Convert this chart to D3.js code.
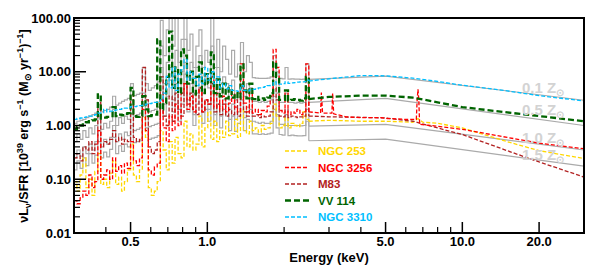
<!DOCTYPE html>
<html>
<head>
<meta charset="utf-8"/>
<script src="https://cdn.jsdelivr.net/npm/d3@7"></script>
<style>
  body { margin: 0; background: #fff; }
  text { font-family: "Liberation Sans", Arial, Helvetica, sans-serif; font-weight: bold; }
</style>
</head>
<body>
<svg id="chart" width="598" height="276"></svg>
<script>
// energy grid (keV) for the line-rich soft band
var energyLow = [
  0.300, 0.308, 0.317, 0.325, 0.334, 0.343, 0.353, 0.362, 0.372, 0.382,
  0.392, 0.403, 0.414, 0.425, 0.437, 0.449, 0.461, 0.473, 0.486, 0.500,
  0.513, 0.527, 0.542, 0.556, 0.572, 0.587, 0.603, 0.620, 0.636, 0.654,
  0.671, 0.690, 0.708, 0.728, 0.747, 0.768, 0.789, 0.810, 0.832, 0.855,
  0.878, 0.902, 0.927, 0.952, 0.978, 1.004, 1.032, 1.060, 1.089, 1.118,
  1.148, 1.180, 1.212, 1.245, 1.279, 1.313, 1.349, 1.386, 1.424, 1.462,
  1.501, 1.542, 1.584, 1.628, 1.672, 1.717, 1.764, 1.812, 1.861, 1.912,
  1.964, 2.017, 2.072, 2.129, 2.187, 2.246, 2.307, 2.370, 2.434, 2.500
];

// model curves (grey), soft band
var z01Low = [
  1.1, 1.2, 1.25, 1.3, 1.4, 1.5, 1.6, 1.7, 2.5, 1.8,
  1.9, 2.0, 2.2, 3.5, 2.4, 2.6, 2.8, 3.0, 3.2, 6.0,
  3.6, 3.8, 4.0, 12, 6.0, 4.5, 5.0, 5.5, 6.5, 90,
  20, 60, 100, 30, 100, 15, 40, 100, 25, 50,
  12, 30, 60, 12, 25, 15, 100, 12, 40, 10,
  30, 17, 9.0, 25, 8.0, 14, 35, 10, 20, 15,
  7.8, 7.6, 7.5, 7.5, 7.5, 7.6, 8.0, 20, 10, 7.5,
  7.4, 12, 7.3, 7.4, 7.3, 7.3, 7.2, 7.3, 14, 7.2
];
var z05Low = [
  0.5, 0.7, 0.55, 0.8, 0.6, 0.9, 0.7, 1.0, 1.5, 0.85,
  1.1, 0.9, 1.2, 2.0, 1.0, 1.4, 1.1, 1.5, 1.3, 3.0,
  1.5, 1.6, 1.7, 8.0, 3.0, 1.8, 1.9, 2.0, 2.2, 30,
  6.0, 15, 30, 8.0, 25, 5.0, 10, 40, 8.0, 15,
  4.0, 12, 20, 4.0, 8.0, 5.0, 30, 4.0, 12, 3.5,
  8.0, 6.0, 3.0, 7.0, 3.0, 4.0, 12, 3.5, 6.0, 5.0,
  2.8, 2.8, 2.7, 2.8, 2.7, 2.8, 3.0, 8.0, 4.0, 2.7,
  2.7, 4.0, 2.7, 2.7, 2.6, 2.7, 2.6, 2.7, 5.0, 2.7
];
var z10Low = [
  0.25, 0.35, 0.27, 0.4, 0.3, 0.45, 0.35, 0.5, 0.8, 0.4,
  0.55, 0.45, 0.6, 1.0, 0.5, 0.7, 0.55, 0.75, 0.65, 1.6,
  0.8, 0.85, 0.9, 4.0, 1.5, 0.95, 1.0, 1.05, 1.1, 12,
  2.5, 6.0, 12, 3.0, 10, 2.0, 4.0, 15, 3.0, 6.0,
  1.6, 4.0, 8.0, 1.8, 3.0, 2.0, 10, 1.6, 4.0, 1.5,
  3.0, 2.5, 1.3, 2.5, 1.3, 1.8, 5.0, 1.4, 2.2, 2.0,
  1.2, 1.15, 1.1, 1.15, 1.1, 1.1, 1.2, 3.5, 1.6, 1.05,
  1.05, 1.6, 1.0, 1.0, 1.0, 1.0, 0.98, 1.0, 2.0, 0.97
];
var z15Low = [
  0.15, 0.22, 0.16, 0.25, 0.18, 0.3, 0.2, 0.28, 0.5, 0.25,
  0.32, 0.26, 0.36, 0.6, 0.3, 0.42, 0.33, 0.45, 0.4, 1.0,
  0.48, 0.5, 0.52, 2.5, 0.9, 0.55, 0.58, 0.6, 0.65, 7.0,
  1.5, 3.5, 7.0, 1.8, 6.0, 1.2, 2.5, 9.0, 1.8, 3.5,
  1.0, 2.5, 5.0, 1.1, 2.0, 1.2, 6.0, 1.0, 2.5, 0.9,
  2.0, 1.5, 0.8, 1.5, 0.78, 1.1, 3.0, 0.8, 1.3, 1.2,
  0.7, 0.7, 0.68, 0.7, 0.68, 0.7, 0.72, 2.0, 0.9, 0.68,
  0.66, 1.0, 0.65, 0.66, 0.65, 0.64, 0.64, 0.65, 1.2, 0.52
];
// model curves, hard band
var modelHiE = [2.5, 5.0, 30];
var z01Hi = [7.2, 8.3, 2.95];
var z05Hi = [2.7, 3.2, 1.0];
var z10Hi = [0.97, 1.05, 0.35];
var z15Hi = [0.52, 0.56, 0.175];

// galaxies, soft band
var ngc253Low = [
  0.09, 0.06, 0.12, 0.25, 0.07, 0.1, 0.05, 0.14, 0.3, 0.08,
  0.1, 0.07, 0.13, 0.22, 0.08, 0.11, 0.06, 0.09, 0.15, 0.45,
  0.12, 0.09, 0.15, 1.4, 0.6, 0.07, 0.05, 0.06, 0.09, 0.8,
  0.35, 0.15, 0.5, 0.2, 0.6, 0.3, 0.25, 1.2, 0.4, 0.7,
  0.35, 0.45, 1.5, 0.4, 0.9, 1.8, 0.55, 1.2, 0.5, 0.8,
  0.6, 1.2, 0.65, 0.7, 1.3, 0.6, 2.0, 0.8, 0.7, 1.2,
  0.8, 0.9, 0.75, 1.0, 0.85, 0.9, 1.1, 2.5, 1.5, 0.9,
  1.0, 1.4, 0.9, 1.1, 1.0, 0.95, 1.1, 1.8, 1.3, 1.2
];
var ngc3256Low = [
  0.04, 0.035, 0.045, 0.06, 0.05, 0.12, 0.07, 0.09, 0.8, 0.1,
  0.12, 0.15, 0.1, 0.25, 0.14, 0.18, 0.13, 0.2, 0.16, 0.5,
  0.22, 0.18, 0.25, 2.0, 0.8, 0.15, 0.12, 0.17, 0.2, 3.0,
  0.9, 0.5, 1.5, 0.8, 2.5, 1.0, 4.0, 6.0, 2.0, 3.5,
  1.8, 4.0, 5.0, 1.8, 3.0, 2.5, 8.0, 2.2, 4.0, 2.0,
  3.5, 1.8, 2.6, 4.0, 2.2, 1.8, 14, 2.6, 1.8, 4.0,
  1.7, 2.0, 1.6, 1.9, 1.8, 2.3, 3.5, 26, 12, 1.9,
  1.7, 4.0, 1.6, 1.8, 1.7, 2.0, 1.6, 1.8, 14, 1.8
];
var m83Low = [
  0.25, 0.3, 0.22, 0.4, 0.35, 0.5, 0.3, 0.45, 2.7, 0.4,
  0.5, 0.45, 0.55, 0.8, 0.5, 0.6, 0.45, 0.55, 0.5, 3.8,
  0.6, 0.5, 0.55, 12, 3.0, 0.4, 0.3, 0.35, 0.5, 8.0,
  1.5, 1.0, 3.5, 1.2, 4.0, 2.0, 1.5, 6.0, 2.5, 4.0,
  2.0, 1.6, 5.0, 1.8, 3.0, 2.5, 6.0, 1.8, 2.5, 1.6,
  2.5, 1.5, 2.0, 1.6, 3.0, 1.5, 6.0, 1.8, 1.5, 2.5,
  1.5, 1.6, 1.4, 1.5, 1.45, 1.5, 1.8, 5.0, 3.0, 1.5,
  1.45, 2.0, 1.4, 1.5, 1.45, 1.4, 1.45, 1.5, 3.5, 1.5
];
var vv114Low = [
  0.85, 0.95, 1.0, 1.05, 1.15, 1.2, 1.25, 1.3, 3.8, 1.35,
  1.4, 1.45, 1.5, 2.2, 1.5, 1.6, 1.55, 1.65, 1.7, 5.0,
  1.5, 1.45, 1.5, 3.5, 2.0, 1.5, 1.55, 1.6, 40, 2.0,
  2.6, 8.0, 56, 5.0, 12, 4.0, 26, 20, 6.0, 10,
  3.8, 8.0, 15, 4.0, 9.0, 6.0, 23, 4.0, 7.2, 3.5,
  6.0, 3.2, 5.0, 3.3, 4.0, 3.2, 13.7, 4.5, 3.2, 6.0,
  3.1, 3.4, 3.0, 3.2, 3.0, 3.3, 4.0, 15, 8.0, 3.0,
  3.0, 4.5, 2.9, 3.0, 3.1, 3.0, 2.9, 3.2, 8.0, 3.1
];
var ngc3310Low = [
  1.3, 1.35, 1.38, 1.42, 1.45, 1.5, 1.55, 1.6, 1.7, 1.72,
  2.0, 1.8, 1.85, 1.9, 1.95, 2.0, 2.05, 2.1, 2.15, 2.25,
  2.25, 2.3, 2.35, 2.4, 2.5, 2.55, 2.6, 2.7, 2.8, 3.0,
  4.0, 8.2, 5.0, 12, 4.5, 9.0, 11, 17, 7.0, 10,
  7.5, 5.5, 9.0, 6.0, 12, 7.0, 10, 6.0, 8.0, 5.0,
  6.0, 4.8, 5.5, 4.5, 4.4, 4.3, 5.5, 4.5, 4.4, 4.6,
  4.7, 4.8, 5.0, 5.1, 5.3, 5.5, 5.6, 6.5, 5.8, 5.9,
  6.0, 6.5, 6.1, 6.2, 6.3, 6.4, 6.5, 6.5, 7.0, 6.7
];

// galaxies, hard band
var hiE = [2.5, 3.0, 4.0, 5.0, 6.4, 8.0, 10, 15, 20, 30];
var ngc253HiE = [2.5, 3.0, 4.0, 5.0, 6.4, 6.7, 7.0, 8.0, 10, 15, 20, 30];
var ngc253Hi = [1.2, 1.25, 1.2, 1.2, 1.15, 1.35, 1.15, 1.1, 0.9, 0.5, 0.34, 0.243];
var ngc3256HiE = [2.5, 2.78, 2.8, 2.83, 3.08, 3.1, 3.13, 3.5, 4.0, 4.8, 5.1, 6.0, 6.6, 6.65, 6.7, 6.75, 6.8, 7.5, 10, 15, 20, 30];
var ngc3256Hi = [1.8, 1.7, 4.1, 1.7, 1.7, 4.0, 1.65, 1.45, 1.4, 1.4, 1.35, 1.3, 1.3, 3.0, 4.7, 3.0, 1.05, 1.0, 0.85, 0.6, 0.47, 0.37];
var m83Hi = [1.5, 1.45, 1.42, 1.38, 1.2, 0.9, 0.68, 0.34, 0.21, 0.11];
var vv114Hi = [3.1, 3.4, 3.6, 3.6, 3.3, 2.7, 2.2, 1.75, 1.5, 1.2];
var ngc3310Hi = [6.7, 7.4, 8.5, 8.4, 7.6, 6.6, 5.6, 4.4, 3.6, 2.85];

var xTicksMajor = [0.5, 1, 5, 10, 20];
var xTicksMinor = [0.4, 0.6, 0.7, 0.8, 0.9, 2, 3, 4, 6, 7, 8, 9];
var yTicksMajor = [0.01, 0.1, 1, 10, 100];
var metalLabels = ["0.1", "0.5", "1.0", "1.5"];

var margin = {top: 18, right: 14, bottom: 43, left: 74};
var width = 598 - margin.left - margin.right;
var height = 276 - margin.top - margin.bottom;

var svg = d3.select("#chart");
var g = svg.append("g").attr("transform", "translate(" + margin.left + "," + margin.top + ")");

var x = d3.scaleLog().domain([0.3, 30]).range([0, width]);
var y = d3.scaleLog().domain([0.01, 100]).range([height, 0]);

g.append("clipPath").attr("id", "clip")
  .append("rect").attr("width", width).attr("height", height);

var plot = g.append("g").attr("clip-path", "url(#clip)");

var stepLine = d3.line().x(function(d) { return x(d[0]); }).y(function(d) { return y(d[1]); })
  .curve(d3.curveStepAfter);
var smoothLine = d3.line().x(function(d) { return x(d[0]); }).y(function(d) { return y(d[1]); });

function pairs(es, vs) { return es.map(function(e, i) { return [e, vs[i]]; }); }

var models = [
  {low: z01Low, hi: z01Hi},
  {low: z05Low, hi: z05Hi},
  {low: z10Low, hi: z10Hi},
  {low: z15Low, hi: z15Hi}
];

var galaxies = [
  {name: "NGC 253", color: "#ffd700", dash: "4,2", w: 1.3, low: ngc253Low, hiE: ngc253HiE, hi: ngc253Hi},
  {name: "M83", color: "#b22222", dash: "4,2", w: 1.3, low: m83Low, hiE: hiE, hi: m83Hi},
  {name: "NGC 3256", color: "#ff0000", dash: "4,2", w: 1.3, low: ngc3256Low, hiE: ngc3256HiE, hi: ngc3256Hi},
  {name: "VV 114", color: "#006400", dash: "6,3", w: 2.3, low: vv114Low, hiE: hiE, hi: vv114Hi},
  {name: "NGC 3310", color: "#00bfff", dash: "4,2", w: 1.3, low: ngc3310Low, hiE: hiE, hi: ngc3310Hi}
];

models.forEach(function(m) {
  plot.append("path").attr("d", stepLine(pairs(energyLow, m.low)))
    .attr("fill", "none").attr("stroke", "#aaaaaa").attr("stroke-width", 1.2);
  plot.append("path").attr("d", smoothLine(pairs(modelHiE, m.hi)))
    .attr("fill", "none").attr("stroke", "#aaaaaa").attr("stroke-width", 1.2);
});

galaxies.forEach(function(s) {
  plot.append("path").attr("d", stepLine(pairs(energyLow, s.low)))
    .attr("fill", "none").attr("stroke", s.color).attr("stroke-width", s.w)
    .attr("stroke-dasharray", s.dash);
  plot.append("path").attr("d", smoothLine(pairs(s.hiE, s.hi)))
    .attr("fill", "none").attr("stroke", s.color).attr("stroke-width", s.w)
    .attr("stroke-dasharray", s.dash);
});

// axes: ticks drawn inward
var yMinor = [];
yTicksMajor.slice(0, 4).forEach(function(d) {
  for (var k = 2; k <= 9; k++) yMinor.push(d * k);
});
g.selectAll(".ymaj").data(yTicksMajor).enter().append("line")
  .attr("x1", 0).attr("x2", 12).attr("y1", y).attr("y2", y)
  .attr("stroke", "#000").attr("stroke-width", 1.5);
g.selectAll(".ymin").data(yMinor).enter().append("line")
  .attr("x1", 0).attr("x2", 6).attr("y1", y).attr("y2", y)
  .attr("stroke", "#000").attr("stroke-width", 1.2);
g.selectAll(".ylab").data(yTicksMajor).enter().append("text")
  .attr("x", -3).attr("y", y).attr("dy", "0.36em")
  .attr("text-anchor", "end").attr("font-size", 13)
  .text(function(d) { return d.toFixed(2); });

g.selectAll(".xmaj").data(xTicksMajor).enter().append("line")
  .attr("x1", x).attr("x2", x).attr("y1", height).attr("y2", height - 11)
  .attr("stroke", "#000").attr("stroke-width", 1.5);
g.selectAll(".xmin").data(xTicksMinor).enter().append("line")
  .attr("x1", x).attr("x2", x).attr("y1", height).attr("y2", height - 6)
  .attr("stroke", "#000").attr("stroke-width", 1.2);
g.selectAll(".xlab").data(xTicksMajor).enter().append("text")
  .attr("x", x).attr("y", height + 13)
  .attr("text-anchor", "middle").attr("font-size", 13)
  .text(function(d) { return d.toFixed(1); });

g.append("rect").attr("width", width).attr("height", height)
  .attr("fill", "none").attr("stroke", "#000").attr("stroke-width", 2);

g.append("text").attr("x", width / 2).attr("y", height + 29)
  .attr("text-anchor", "middle").attr("font-size", 13).text("Energy (keV)");

var yt = svg.append("text").attr("transform", "translate(28,126) rotate(-90)")
  .attr("text-anchor", "middle").attr("font-size", 12.5);
yt.append("tspan").text("\u03bdL");
yt.append("tspan").attr("font-size", 9).attr("dy", 3).text("\u03bd");
yt.append("tspan").attr("dy", -3).text("/SFR [10");
yt.append("tspan").attr("font-size", 9).attr("dy", -5).text("39");
yt.append("tspan").attr("dy", 5).text(" erg s");
yt.append("tspan").attr("font-size", 9).attr("dy", -5).text("\u22121");
yt.append("tspan").attr("dy", 5).text(" (M");
yt.append("tspan").attr("font-size", 9).attr("dy", 3).text("\u2299");
yt.append("tspan").attr("dy", -3).text(" yr");
yt.append("tspan").attr("font-size", 9).attr("dy", -5).text("\u22121");
yt.append("tspan").attr("dy", 5).text(")");
yt.append("tspan").attr("font-size", 9).attr("dy", -5).text("\u22121");
yt.append("tspan").attr("dy", 5).text("]");

// legend
var legendOrder = ["NGC 253", "NGC 3256", "M83", "VV 114", "NGC 3310"];
var legend = svg.append("g").attr("transform", "translate(285,151)");
legendOrder.forEach(function(name, i) {
  var s = galaxies.filter(function(d) { return d.name === name; })[0];
  legend.append("line").attr("x1", 0).attr("x2", 24).attr("y1", i * 16.5).attr("y2", i * 16.5)
    .attr("stroke", s.color).attr("stroke-width", s.w).attr("stroke-dasharray", s.dash);
  legend.append("text").attr("x", 33).attr("y", i * 16.5).attr("dy", "0.36em")
    .attr("font-size", 11.5).attr("fill", s.color).text(name);
});

// metallicity labels
var metalY = [93, 115, 143, 160];
metalLabels.forEach(function(t, i) {
  var tx = svg.append("text").attr("x", 522).attr("y", metalY[i])
    .attr("font-size", 15).attr("fill", "#d3d3d3");
  tx.append("tspan").text(t + " Z");
  tx.append("tspan").attr("font-size", 10).attr("dy", 3).text("\u2299");
});
</script>
</body>
</html>
